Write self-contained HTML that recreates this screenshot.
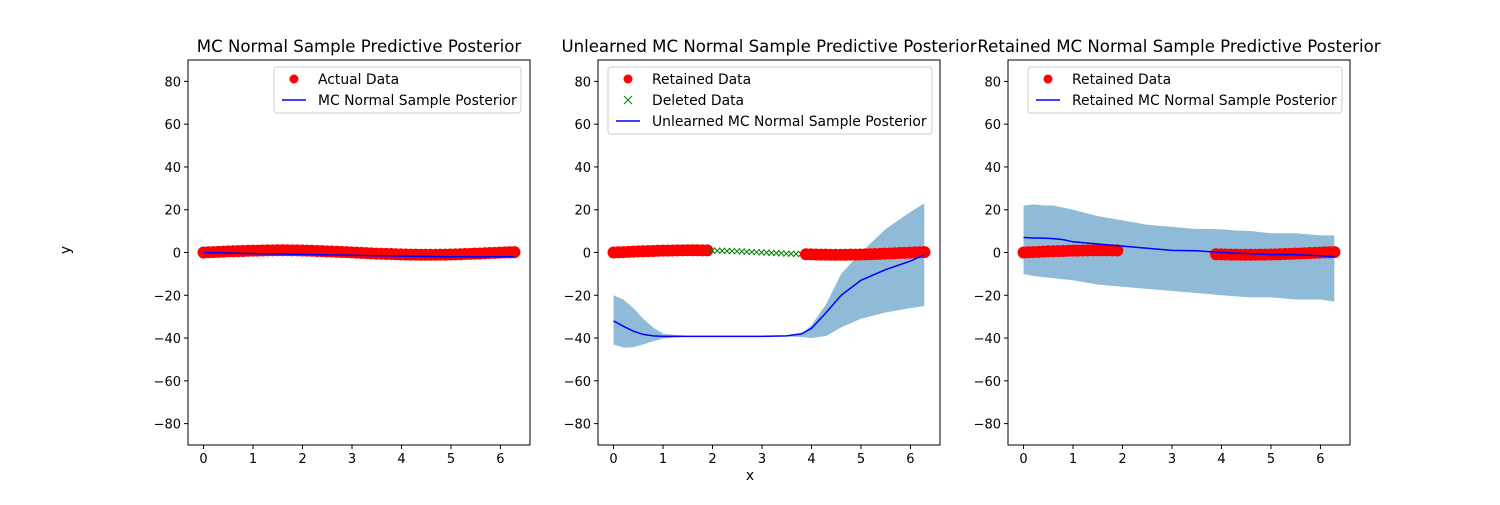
<!DOCTYPE html>
<html><head><meta charset="utf-8"><style>
body{margin:0;background:#fff}
svg text{font-family:"DejaVu Sans","Liberation Sans",sans-serif;fill:#000}
</style></head><body>
<svg id="fig" width="1500" height="500" xmlns="http://www.w3.org/2000/svg"></svg>
<script>
const xTicks=[0,1,2,3,4,5,6];
const yTicks=[-80,-60,-40,-20,0,20,40,60,80];
const dataY=[0,0.1,0.2,0.3,0.4,0.5,0.6,0.65,0.72,0.8,0.85,0.9,0.95,1,1.02,1.05,1.05,1.03,1,0.98,0.95,0.88,0.8,0.72,0.65,0.55,0.45,0.35,0.25,0.15,0.05,-0.07,-0.18,-0.28,-0.38,-0.5,-0.6,-0.66,-0.73,-0.8,-0.88,-0.95,-0.98,-1,-1.03,-1.05,-1.05,-1.03,-1,-0.98,-0.95,-0.88,-0.8,-0.72,-0.65,-0.55,-0.45,-0.35,-0.25,-0.15,-0.05,0.05,0.1,0.15];
const postX=[0,0.2,0.4,0.6,0.8,1,1.5,2,2.5,3,3.5,3.8,4,4.3,4.6,5,5.5,6,6.28];
const p1Mean=[0,-0.1,-0.2,-0.3,-0.4,-0.5,-0.7,-0.9,-1.1,-1.3,-1.5,-1.6,-1.7,-1.8,-1.9,-2,-2,-2,-2];
const p1Up=[0.8,0.7,0.6,0.5,0.4,0.3,0.1,-0.1,-0.3,-0.5,-0.7,-0.8,-0.9,-1,-1.1,-1.2,-1.2,-1.2,-1.2];
const p1Lo=[-0.8,-0.9,-1,-1.1,-1.2,-1.3,-1.5,-1.7,-1.9,-2.1,-2.3,-2.4,-2.5,-2.6,-2.7,-2.8,-2.8,-2.8,-2.8];
const p2Mean=[-32,-34.5,-36.8,-38.3,-39,-39.2,-39.2,-39.2,-39.2,-39.2,-39,-38,-35.5,-28,-20,-13,-8,-4,-1];
const p2Up=[-20,-22,-26,-31,-35,-38,-39,-39,-39,-39,-39,-38,-34,-24,-10,0,11,19,23];
const p2Lo=[-43,-44.5,-44.3,-43,-41.5,-40.2,-39.3,-39.3,-39.3,-39.3,-39.3,-39.5,-40,-39,-35,-31,-28,-26,-25];
const p3Mean=[7,6.8,6.7,6.5,6,5,4,3,2,1,0.8,0.3,0,-0.3,-0.6,-1,-1,-1.5,-2];
const p3Up=[22,22.5,22,22,21,20,17,15,13,12,11,11,10.8,10.3,10,9,9,8,8];
const p3Lo=[-10,-11,-11.5,-12,-12.5,-13,-15,-16,-17,-18,-19,-19.5,-20,-20.5,-21,-21,-22,-22,-23];
const NS="http://www.w3.org/2000/svg";
const svg=document.getElementById('fig');
function mk(tag,attrs,parent){const e=document.createElementNS(NS,tag);for(const k in attrs)e.setAttribute(k,attrs[k]);(parent||svg).appendChild(e);return e;}
const dataX=dataY.map((_,i)=>i*6.2832/(dataY.length-1));
const panels=[
 {L:188,title:"MC Normal Sample Predictive Posterior",mean:p1Mean,up:p1Up,lo:p1Lo,mode:'all',
  legend:{x:274,w:247,items:[["dot","Actual Data"],["line","MC Normal Sample Posterior"]]}},
 {L:598,title:"Unlearned MC Normal Sample Predictive Posterior",mean:p2Mean,up:p2Up,lo:p2Lo,mode:'del',
  legend:{x:608,w:324,items:[["dot","Retained Data"],["cross","Deleted Data"],["line","Unlearned MC Normal Sample Posterior"]]}},
 {L:1008,title:"Retained MC Normal Sample Predictive Posterior",mean:p3Mean,up:p3Up,lo:p3Lo,mode:'ret',
  legend:{x:1028,w:314,items:[["dot","Retained Data"],["line","Retained MC Normal Sample Posterior"]]}}
];
const T=60,B=445,W=342;
panels.forEach((p,pi)=>{
 const g=mk('g',{});
 
 
 const sx=v=>p.L+(v+0.3142)/(6.5974+0.3142)*W;
 const sy=v=>T+(90-v)/180*(B-T);
 const clip=mk('clipPath',{id:'c'+pi},g);mk('rect',{x:p.L,y:T,width:W,height:B-T},clip);
 const pg=mk('g',{'clip-path':'url(#c'+pi+')'},g);
 let d=postX.map((x,i)=>(i?'L':'M')+sx(x)+','+sy(p.up[i])).join('')+postX.slice().reverse().map((x,j)=>{const i=postX.length-1-j;return 'L'+sx(x)+','+sy(p.lo[i]);}).join('')+'Z';
 const band=mk('path',{d:d,fill:'#1f77b4','fill-opacity':0.5},pg);
 
 
 dataX.forEach((x,i)=>{
  const del=x>1.9&&x<3.8;
  if(p.mode==='ret'&&del)return;
  if(p.mode==='del'&&del){
   const c=mk('path',{d:`M${sx(x)-3},${sy(dataY[i])-3}l6,6M${sx(x)-3},${sy(dataY[i])+3}l6,-6`,stroke:'green','stroke-width':1},pg);
   
   
  }else{
   const c=mk('circle',{cx:sx(x),cy:sy(dataY[i]),r:6,fill:'red'},pg);
   
   
  }
 });
 const ln=mk('polyline',{points:postX.map((x,i)=>sx(x)+','+sy(p.mean[i])).join(' '),fill:'none',stroke:'blue','stroke-width':1.5},pg);
 
 
 mk('rect',{x:p.L,y:T,width:W,height:B-T,fill:'none',stroke:'#000','stroke-width':1},g);
 xTicks.forEach(t=>{mk('line',{x1:sx(t),x2:sx(t),y1:B,y2:B+4,stroke:'#000'},g);
  const tx=mk('text',{x:sx(t),y:B+18,'text-anchor':'middle','font-size':13},g);tx.textContent=t;
  });
 yTicks.forEach(t=>{mk('line',{x1:p.L-4,x2:p.L,y1:sy(t),y2:sy(t),stroke:'#000'},g);
  const tx=mk('text',{x:p.L-7,y:sy(t)+5,'text-anchor':'end','font-size':13},g);tx.textContent=t<0?'\u2212'+(-t):t;
  });
 const ti=mk('text',{x:p.L+W/2,y:52,'text-anchor':'middle','font-size':16.6},g);ti.textContent=p.title;
 
 const lg=p.legend,lh=21*lg.items.length+4;
 const lgg=mk('g',{},g);
 
 
 mk('rect',{x:lg.x,y:67,width:lg.w,height:lh,rx:3,fill:'#fff','fill-opacity':0.8,stroke:'#ccc'},lgg);
 lg.items.forEach((it,k)=>{const y=79+k*21,x0=lg.x+8;
  if(it[0]==='dot')mk('circle',{cx:x0+12,cy:y,r:4.5,fill:'red'},lgg);
  else if(it[0]==='cross')mk('path',{d:`M${x0+8},${y-4}l8,8M${x0+8},${y+4}l8,-8`,stroke:'green'},lgg);
  else mk('line',{x1:x0,x2:x0+24,y1:y,y2:y,stroke:'blue','stroke-width':1.5},lgg);
  const t=mk('text',{x:x0+36,y:y+5,'font-size':13.9},lgg);t.textContent=it[1];
  });
});
const yl=mk('text',{x:70,y:250,'text-anchor':'middle','font-size':13.9,transform:'rotate(-90 70 250)'});yl.textContent='y';

const xl=mk('text',{x:750,y:480,'text-anchor':'middle','font-size':13.9});xl.textContent='x';

</script>
</body></html>
